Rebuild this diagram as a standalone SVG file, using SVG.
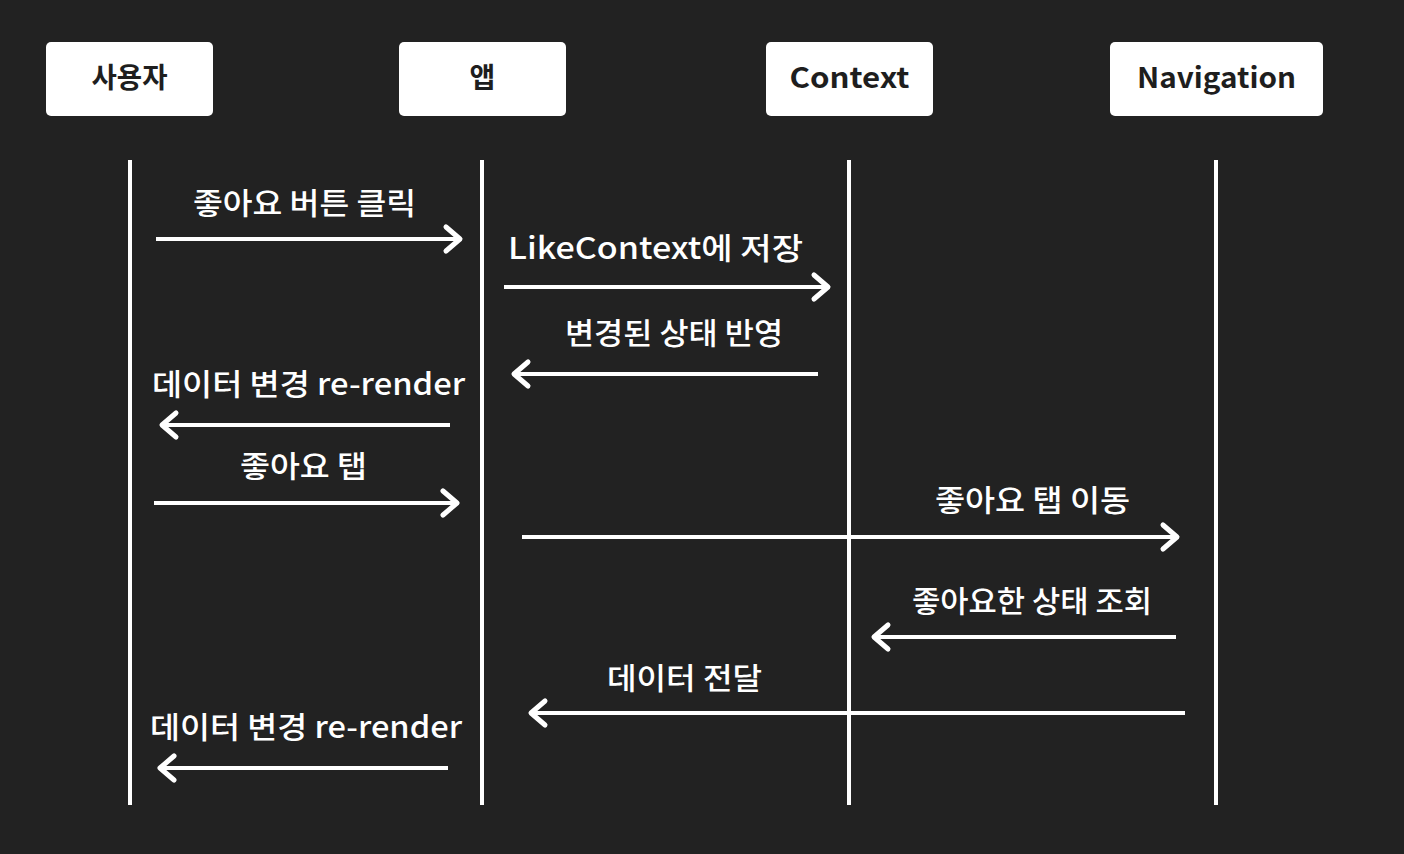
<svg xmlns="http://www.w3.org/2000/svg" width="1404" height="854" viewBox="0 0 1404 854">
<style>
.box{fill:#ffffff;}
.hdr{font-family:"Noto Sans CJK KR","Noto Sans",sans-serif;font-weight:700;font-size:28px;fill:#1e1e1e;text-anchor:middle;}
.life{stroke:#ffffff;stroke-width:4;}
.msg{stroke:#ffffff;stroke-width:4;fill:none;marker-end:url(#head);}
.lbl{font-family:"Noto Sans CJK KR","Noto Sans",sans-serif;font-weight:500;font-size:30px;fill:#ffffff;text-anchor:middle;}
</style>
<defs>
<marker id="head" markerUnits="userSpaceOnUse" markerWidth="22" markerHeight="32" viewBox="-18 -16 22 32" refX="0" refY="0" orient="auto">
<path d="M-14,-12 L0,0 L-14,12" fill="none" stroke="#ffffff" stroke-width="5" stroke-linecap="round" stroke-linejoin="round"/>
</marker>
</defs>
<rect width="1404" height="854" fill="#222222"/>
<g id="user"><rect class="box" x="46" y="42" width="167" height="74" rx="5"/><text class="hdr" x="129.5" y="88" textLength="76" lengthAdjust="spacingAndGlyphs">사용자</text></g>
<g id="app"><rect class="box" x="399" y="42" width="167" height="74" rx="5"/><text class="hdr" x="482.5" y="88">앱</text></g>
<g id="context"><rect class="box" x="766" y="42" width="167" height="74" rx="5"/><text class="hdr" x="849.5" y="88" textLength="120" lengthAdjust="spacingAndGlyphs">Context</text></g>
<g id="navigation"><rect class="box" x="1110" y="42" width="213" height="74" rx="5"/><text class="hdr" x="1216.5" y="88" textLength="159" lengthAdjust="spacingAndGlyphs">Navigation</text></g>
<g id="lifelines">
<line class="life" x1="130" y1="160" x2="130" y2="805"/>
<line class="life" x1="482" y1="160" x2="482" y2="805"/>
<line class="life" x1="849" y1="160" x2="849" y2="805"/>
<line class="life" x1="1216" y1="160" x2="1216" y2="805"/>
</g>
<g id="connectors">
<line class="msg" x1="156" y1="239" x2="460" y2="239"/>
<line class="msg" x1="504" y1="287" x2="828" y2="287"/>
<line class="msg" x1="818" y1="374" x2="514" y2="374"/>
<line class="msg" x1="450" y1="425" x2="162" y2="425"/>
<line class="msg" x1="154" y1="503" x2="457" y2="503"/>
<line class="msg" x1="522" y1="537" x2="1177" y2="537"/>
<line class="msg" x1="1176" y1="637" x2="874" y2="637"/>
<line class="msg" x1="1185" y1="713" x2="531" y2="713"/>
<line class="msg" x1="448" y1="768" x2="160" y2="768"/>
</g>
<g id="labels">
<text class="lbl" x="304.5" y="214" textLength="223" lengthAdjust="spacingAndGlyphs">좋아요 버튼 클릭</text>
<text class="lbl" x="655.5" y="259" textLength="295" lengthAdjust="spacingAndGlyphs">LikeContext에 저장</text>
<text class="lbl" x="674" y="344" textLength="218" lengthAdjust="spacingAndGlyphs">변경된 상태 반영</text>
<text class="lbl" x="308.5" y="395" textLength="313" lengthAdjust="spacingAndGlyphs">데이터 변경 re-render</text>
<text class="lbl" x="303.5" y="477" textLength="127" lengthAdjust="spacingAndGlyphs">좋아요 탭</text>
<text class="lbl" x="1032.5" y="511" textLength="195" lengthAdjust="spacingAndGlyphs">좋아요 탭 이동</text>
<text class="lbl" x="1032" y="612" textLength="240" lengthAdjust="spacingAndGlyphs">좋아요한 상태 조회</text>
<text class="lbl" x="684.5" y="689" textLength="155" lengthAdjust="spacingAndGlyphs">데이터 전달</text>
<text class="lbl" x="306" y="738" textLength="312" lengthAdjust="spacingAndGlyphs">데이터 변경 re-render</text>
</g>
</svg>
